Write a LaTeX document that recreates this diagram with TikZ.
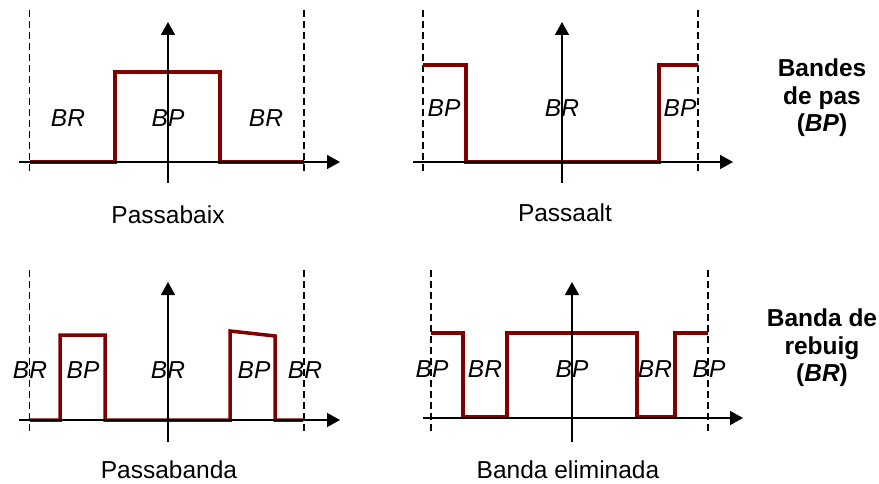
\documentclass[tikz,border=0pt]{standalone}
\usepackage{fontspec}
\setmainfont{Liberation Sans}
\usetikzlibrary{arrows.meta}
\definecolor{filt}{RGB}{128,0,0}
\tikzset{
  axis/.style={line width=1.6pt,-{Triangle[length=13pt,width=14pt]}},
  limit/.style={line width=1.5pt,dash pattern=on 7pt off 4pt},
  resp/.style={filt,line width=3.5pt,line join=miter},
  band/.style={inner sep=0pt,font=\fontsize{24.5}{28}\selectfont\itshape},
  captext/.style={inner sep=0pt,font=\fontsize{24.5}{28}\selectfont},
  side/.style={inner sep=0pt,align=center,font=\fontsize{24.5}{27.5}\selectfont\bfseries}
}
\begin{document}
\begin{tikzpicture}[x=1pt,y=-1pt]
\useasboundingbox (0,0) rectangle (879,484);
% ---------- Panel 1: Passabaix
\draw[limit] (29.5,10) -- (29.5,172);
\draw[limit] (304,10) -- (304,172);
\draw[resp] (30,162) -- (115,162) -- (115,72) -- (220,72) -- (220,162) -- (304,162);
\draw[axis] (19,162) -- (340,162);
\draw[axis] (168,183) -- (168,22);
\node[band] (p1a) at (68,118) {BR};
\node[band] (p1b) at (168,118) {BP};
\node[band] (p1c) at (266,118) {BR};
\node[captext] (t1) at (168,215) {Passabaix};
% ---------- Panel 2: Passaalt
\draw[limit] (423,10) -- (423,172);
\draw[limit] (698,10) -- (698,172);
\draw[resp] (423,65) -- (466,65) -- (466,162) -- (659,162) -- (659,65) -- (698,65);
\draw[axis] (413,162) -- (733,162);
\draw[axis] (562,183) -- (562,22);
\node[band] (p2a) at (444,108) {BP};
\node[band] (p2b) at (562,108) {BR};
\node[band] (p2c) at (680,108) {BP};
\node[captext] (t2) at (565,213) {Passaalt};
\node[side] (s1) at (822,98) {Bandes\\de pas\\(\textit{BP})};
% ---------- Panel 3: Passabanda
\draw[limit] (29.5,270) -- (29.5,432);
\draw[limit] (304,270) -- (304,432);
\draw[resp] (30,420) -- (60,420) -- (60,335) -- (105,335) -- (105,420) -- (230,420) -- (230,331) -- (275,336) -- (275,420) -- (303,420);
\draw[axis] (19,420) -- (340,420);
\draw[axis] (168,442) -- (168,282);
\node[band] (p3a) at (30,370) {BR};
\node[band] (p3b) at (83,370) {BP};
\node[band] (p3c) at (168,370) {BR};
\node[band] (p3d) at (254,370) {BP};
\node[band] (p3e) at (305,370) {BR};
\node[captext] (t3) at (169,470) {Passabanda};
% ---------- Panel 4: Banda eliminada
\draw[limit] (431,270) -- (431,432);
\draw[limit] (708,270) -- (708,432);
\draw[resp] (431,333) -- (463,333) -- (463,417) -- (507,417) -- (507,333) -- (637,333) -- (637,417) -- (675,417) -- (675,333) -- (708,333);
\draw[axis] (423,418) -- (743,418);
\draw[axis] (572,442) -- (572,282);
\node[band] (p4a) at (432,369) {BP};
\node[band] (p4b) at (485,369) {BR};
\node[band] (p4c) at (572,369) {BP};
\node[band] (p4d) at (655,369) {BR};
\node[band] (p4e) at (709,369) {BP};
\node[captext] (t4) at (568,470) {Banda eliminada};
\node[side] (s2) at (822,348) {Banda de\\rebuig\\(\textit{BR})};
\end{tikzpicture}
\end{document}
